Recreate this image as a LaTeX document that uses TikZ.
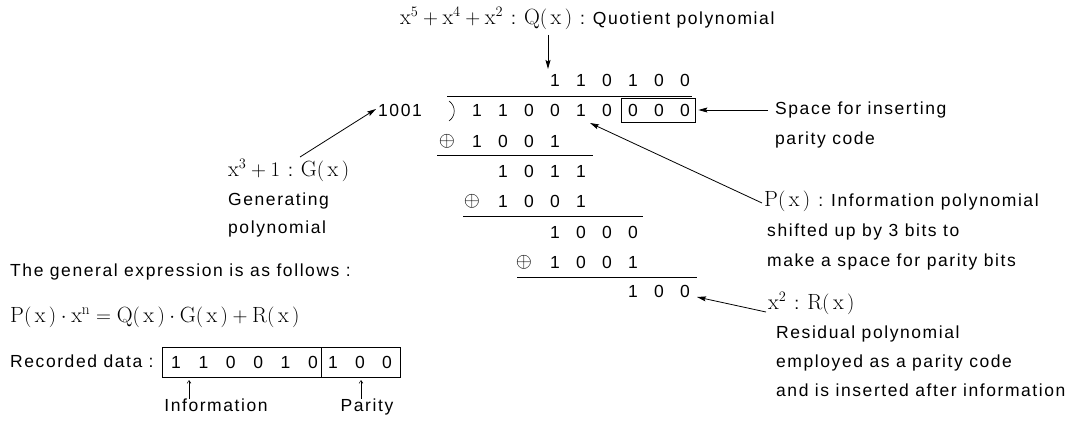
\documentclass[tikz,border=0pt]{standalone}
\usepackage{fontspec}
\newfontfamily\sansw{Liberation Sans}[LetterSpace=9]
\usetikzlibrary{arrows.meta}
\newcommand\Mser[1]{{\fontsize{22}{24}\selectfont$#1$}}
\newcommand\fxx{(\mkern3mu\mathrm{x}\mkern3mu)}
\newcommand\cln{\hspace{8pt}:\hspace{8pt}}
\newcommand\digrow[4]{\foreach \dd [count=\ii from 0] in {#4} {\node[dig] (#1-\ii) at ({477+26*(#3-1+\ii)},#2) {\dd};}}
\tikzset{
  txt/.style={font=\sansw\fontsize{17.5}{19}\selectfont, inner sep=0pt, anchor=west, text height=12pt, text depth=3.5pt},
  ctxt/.style={txt, anchor=center},
  dig/.style={font=\sansw\fontsize{17.5}{19}\selectfont, inner sep=0pt, anchor=center},
  opl/.style={font=\fontsize{22}{24}\selectfont, inner sep=0pt, anchor=center},
  arr/.style={-{Stealth[length=9pt,width=5pt,inset=1.5pt]}, line width=0.8pt},
  smallarr/.style={-{Straight Barb[length=3pt,width=4pt]}, line width=0.5pt},
  rulel/.style={line width=0.8pt},
}
\begin{document}
\begin{tikzpicture}[x=1pt,y=-1pt]
\useasboundingbox (0,0) rectangle (1077,425);

% ---- top: quotient label
\node[txt] (qlab) at (400,20) {\Mser{\mathrm{x}^5+\mathrm{x}^4+\mathrm{x}^2}\cln\Mser{\mathrm{Q}\fxx}\cln Quotient polynomial};
\coordinate (qA) at (548,35);
\coordinate (qB) at (548,69);
\draw[arr] (qA) -- (qB);

% ---- long division
\digrow{q}{80}{4}{1,1,0,1,0,0}
\draw[rulel] (447,96) -- (692,96);
\draw[line width=0.6pt] (449,101) .. controls (456,106) and (456,116) .. (449,121);
\node[dig] (div) at (400,110) {1001};
\digrow{d}{110}{1}{1,1,0,0,1,0,0,0,0}
\node[draw, line width=0.8pt, minimum width=74pt, minimum height=24pt, inner sep=0pt] (pbox) at (658,110) {};

\node[opl] (o1) at (447,141) {$\oplus$};
\digrow{a}{141}{1}{1,0,0,1}
\draw[rulel] (437,155) -- (593,155);
\digrow{b}{171}{2}{1,0,1,1}
\node[opl] (o2) at (472,201) {$\oplus$};
\digrow{c}{201}{2}{1,0,0,1}
\draw[rulel] (463,216) -- (643,216);
\digrow{e}{232}{4}{1,0,0,0}
\node[opl] (o3) at (524,262) {$\oplus$};
\digrow{f}{262}{4}{1,0,0,1}
\draw[rulel] (517,277) -- (697,277);
\digrow{r}{291}{7}{1,0,0}

% ---- right labels
\node[txt] (sp1) at (775,110) {Space for inserting};
\node[txt] (sp2) at (775,140) {parity code};
\draw[arr] ([xshift=-7pt]sp1.west) -- ([xshift=3pt]pbox.east);

\node[txt] (pl1) at (764,202) {\Mser{\mathrm{P}\fxx}\cln Information polynomial};
\node[txt] (pl2) at (767,232) {shifted up by 3 bits to};
\node[txt] (pl3) at (767,262) {make a space for parity bits};
\coordinate (pA) at (762,203);
\coordinate (pB) at (590,123);
\draw[arr] (pA) -- (pB);

\node[txt] (rl1) at (768,305) {\Mser{\mathrm{x}^2}\cln\Mser{\mathrm{R}\fxx}};
\node[txt] (rl2) at (776,334) {Residual polynomial};
\node[txt] (rl3) at (776,363) {employed as a parity code};
\node[txt] (rl4) at (776,392) {and is inserted after information};
\coordinate (rA) at (766,312);
\coordinate (rB) at (697,297);
\draw[arr] (rA) -- (rB);

% ---- left labels
\node[txt] (gl1) at (228,172) {\Mser{\mathrm{x}^3+1}\cln\Mser{\mathrm{G}\fxx}};
\node[txt] (gl2) at (228,201) {Generating};
\node[txt] (gl3) at (228,229) {polynomial};
\coordinate (gA) at (300,157);
\coordinate (gB) at (376,109);
\draw[arr] (gA) -- (gB);

\node[txt] (gen) at (10,272) {The general expression is as follows :};
\node[txt] (eq) at (10,318) {\Mser{\mathrm{P}\fxx\cdot\mathrm{x}^{\mathrm{n}}=\mathrm{Q}\fxx\cdot\mathrm{G}\fxx+\mathrm{R}\fxx}};
\node[txt] (rec) at (10,363) {Recorded data :};

\node[draw, line width=0.7pt, minimum width=238pt, minimum height=30pt, inner sep=0pt] (rbox) at (281,362) {};
\draw[line width=0.7pt] (321,347) -- (321,377);
\foreach \dd [count=\ii from 0] in {1,1,0,0,1,0} {\node[dig] (ri-\ii) at ({176+27.4*\ii},362) {\dd};}
\foreach \dd [count=\ii from 0] in {1,0,0} {\node[dig] (rp-\ii) at ({333+27*\ii},362) {\dd};}

\node[ctxt] (info) at (216,407) {Information};
\node[ctxt] (par) at (367,407) {Parity};
\draw[smallarr] (info.north -| 189,0) -- (189,380);
\draw[smallarr] (par.north -| 361,0) -- (361,380);
\end{tikzpicture}
\end{document}
